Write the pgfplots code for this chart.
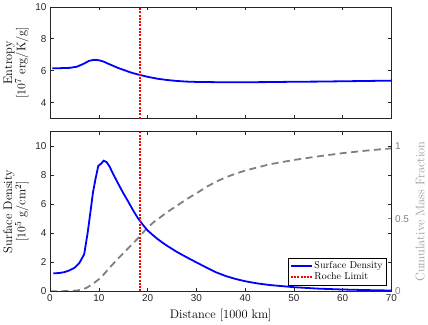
\documentclass[border=0pt]{standalone}
\usepackage{fontspec}
\usepackage{pgfplots}
\pgfplotsset{compat=1.18}
\newfontfamily\helv{Liberation Sans}
\definecolor{axgray}{rgb}{0.15,0.15,0.15}
\definecolor{mblue}{rgb}{0,0,1}
\definecolor{mred}{rgb}{1,0,0}
\definecolor{cgray}{rgb}{0.5,0.5,0.5}
\definecolor{lgray}{rgb}{0.62,0.62,0.62}
\pgfplotsset{
  every axis/.append style={
    scale only axis,
    width=342bp,
    xmin=0, xmax=70,
    xtick={0,10,...,70},
    axis line style={axgray, line width=0.6pt},
    every tick/.style={axgray, line width=0.6pt},
    major tick length=3.5bp,
    tick label style={font=\helv\fontsize{10}{12}\selectfont, text=axgray},
    /pgf/number format/assume math mode=true,
    label style={font=\fontsize{12.5}{13.5}\selectfont},
  },
  sd/.style={mblue, line width=1.8bp, no markers},
  roche/.style={mred, line width=2bp, dash pattern=on 2bp off 1.3bp, no markers},
}
\begin{document}
\begin{tikzpicture}
% top: entropy
\begin{axis}[
  at={(0,173bp)},
  height=112bp,
  ymin=3, ymax=10,
  ytick={4,6,8,10},
  xticklabels={},
  ylabel={Entropy\\{}[$10^7$ erg/K/g]},
  ylabel style={align=center},
]
\addplot[sd] coordinates {
(0.5,6.15) (2,6.16) (4,6.18) (5.5,6.25) (7,6.45) (8,6.62) (9,6.68) (10,6.66)
(11,6.57) (12,6.43) (13,6.30) (14,6.17) (15,6.06) (16,5.95) (17,5.85) (18.5,5.73)
(20,5.62) (22,5.50) (24,5.42) (26,5.36) (28,5.32) (30,5.30) (35,5.28) (40,5.28)
(45,5.29) (50,5.31) (55,5.32) (60,5.34) (65,5.36) (70,5.38)};
\addplot[roche] coordinates {(18.5,3) (18.5,10)};
\end{axis}
% bottom right: cumulative mass fraction
\begin{axis}[
  at={(0,0)},
  height=160bp,
  ymin=0, ymax=1.1,
  axis x line=none,
  axis y line*=right,
  y axis line style={draw=none},
  ytick={0,0.5,1},
  yticklabels={0,0.5,1},
  every tick/.style={cgray, line width=0.6pt},
  tick label style={text=cgray},
  ylabel={Cumulative Mass Fraction},
  ylabel style={text=lgray},
]
\addplot[cgray, line width=1.8bp, dash pattern=on 7bp off 4.5bp, no markers] coordinates {
(0,0) (2,0.001) (4,0.003) (5.5,0.006) (6.5,0.012) (7.5,0.025) (8.5,0.045) (9.5,0.07)
(10.5,0.097) (12,0.155) (13.5,0.21) (15,0.262) (16.5,0.313) (18,0.365) (19.6,0.425)
(21,0.47) (22,0.495) (24,0.545) (26,0.59) (28,0.635) (30,0.675) (32,0.718) (34,0.755)
(36,0.785) (38,0.81) (40,0.832) (45,0.875) (50,0.905) (55,0.93) (60,0.952) (65,0.97) (70,0.985)};
\end{axis}
% bottom: surface density
\begin{axis}[
  at={(0,0)},
  height=160bp,
  ymin=0, ymax=11,
  ytick={0,2,...,10},
  ytick pos=both,
  xlabel={Distance [1000 km]},
  ylabel={Surface Density\\{}[$10^5$ g/cm$^2$]},
  ylabel style={align=center},
  legend style={at={(0.985,0.04)}, anchor=south east, draw=black,
    font=\fontsize{10}{11}\selectfont, inner sep=1.5pt, row sep=-1pt},
  legend cell align=left,
  legend image code/.code={\draw[#1] (0bp,0bp) -- (21bp,0bp);},
  legend image post style={line width=1.7bp},
]
\addplot[sd] coordinates {
(0.7,1.24) (2,1.27) (3,1.33) (4,1.45) (5,1.62) (6,1.95) (7,2.55) (7.7,4.0)
(8.3,5.5) (8.8,6.8) (9.3,7.7) (9.9,8.65) (10.5,8.8) (11,9.0) (11.6,8.9) (12.2,8.6)
(13,8.05) (14,7.4) (15,6.78) (16,6.2) (17,5.6) (18,5.05) (19,4.6) (20,4.2) (21,3.9)
(22,3.62) (23,3.37) (24,3.14) (26,2.72) (28,2.35) (30,2.0) (32,1.65) (34,1.32)
(36,1.06) (38,0.86) (40,0.7) (42.5,0.55) (45,0.44) (50,0.29) (55,0.19) (60,0.13)
(65,0.09) (70,0.06)};
\addlegendentry{Surface Density}
\addplot[roche] coordinates {(18.5,0) (18.5,11)};
\addlegendentry{Roche Limit}
\end{axis}
\end{tikzpicture}
\end{document}
